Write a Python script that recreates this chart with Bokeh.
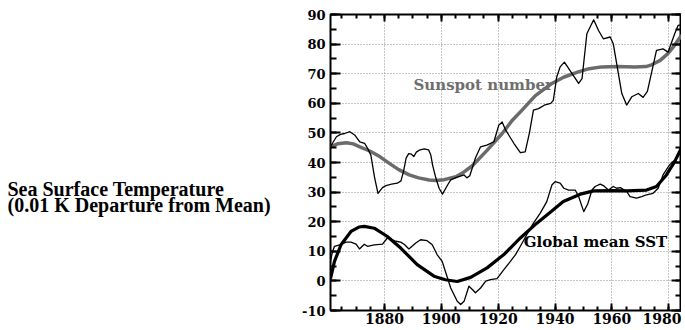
from bokeh.plotting import figure
from bokeh.layouts import row
from bokeh.models import LinearAxis, SingleIntervalTicker, Label, Range1d, CustomJSTickFormatter
from bokeh.core.properties import value
from bokeh.embed import file_html
from bokeh.resources import INLINE

# ---- data ----
sun_years = [1861.0, 1862.0, 1863.1, 1864.5, 1866.0, 1867.8, 1869.5, 1871.3, 1873.0, 1874.2,
             1875.2, 1876.5, 1877.7, 1879.3, 1880.5, 1882.5, 1884.5, 1885.8, 1886.7, 1887.6,
             1888.5, 1889.5, 1890.3, 1891.2, 1892.5, 1894.0, 1895.5, 1896.3, 1896.9, 1898.0,
             1899.2, 1900.4, 1902.2, 1903.3, 1905.1, 1907.0, 1908.0, 1909.0, 1910.0, 1911.0,
             1912.0, 1913.8, 1916.0, 1918.5, 1920.2, 1921.4, 1922.6, 1925.5, 1927.8, 1929.5,
             1931.0, 1932.4, 1934.2, 1936.5, 1938.5, 1939.4, 1940.6, 1941.8, 1943.3, 1946.0,
             1948.3, 1949.5, 1951.2, 1953.6, 1955.3, 1957.0, 1959.4, 1960.5, 1963.5, 1965.2,
             1967.0, 1969.3, 1971.0, 1972.5, 1975.7, 1978.0, 1979.8, 1982.1, 1983.3, 1984.5]
sun_values = [45.3, 47.0, 48.7, 49.5, 49.8, 50.4, 49.3, 47.0, 46.5, 44.5,
              42.5, 35.0, 29.6, 31.5, 32.2, 32.7, 33.0, 33.8, 37.0, 41.5,
              43.0, 42.8, 42.0, 43.5, 44.3, 44.6, 44.3, 42.5, 39.2, 35.0,
              31.3, 29.3, 32.4, 34.1, 34.9, 35.5, 35.8, 34.8, 35.5, 38.5,
              41.5, 45.3, 45.9, 47.0, 52.6, 53.7, 51.0, 46.5, 43.3, 43.6,
              50.0, 57.7, 58.2, 59.5, 60.0, 61.0, 68.9, 72.3, 73.9, 70.0,
              66.7, 68.3, 83.5, 88.2, 84.6, 81.8, 82.4, 80.1, 63.3, 59.4,
              62.2, 63.3, 62.0, 64.0, 77.9, 78.4, 77.3, 83.5, 86.3, 86.5]

sun_smooth_years = [1861.0, 1863.5, 1866.6, 1869.0, 1871.3, 1875.0, 1878.3, 1881.7, 1885.0, 1888.7,
                    1892.0, 1895.7, 1898.0, 1901.0, 1905.1, 1908.0, 1910.9, 1916.0, 1921.4, 1925.0,
                    1928.4, 1933.0, 1938.9, 1943.0, 1948.2, 1952.0, 1956.4, 1962.0, 1968.0, 1972.0,
                    1974.0, 1977.0, 1979.7, 1982.0, 1984.5]
sun_smooth_values = [45.3, 46.3, 46.7, 46.3, 45.3, 43.8, 42.0, 39.7, 37.6, 35.8,
                     34.8, 34.1, 33.9, 34.2, 35.2, 36.8, 38.9, 44.0, 49.8, 54.3,
                     57.7, 62.5, 66.7, 68.8, 70.6, 71.7, 72.3, 72.4, 72.3, 72.4,
                     73.0, 74.5, 76.8, 79.5, 83.0]

sst_years = [1861.0, 1861.6, 1862.4, 1864.2, 1866.5, 1868.2, 1870.0, 1871.2, 1872.9, 1874.0,
             1876.4, 1879.3, 1881.0, 1882.0, 1884.0, 1885.7, 1887.0, 1888.6, 1891.0, 1892.7,
             1895.0, 1896.8, 1898.5, 1900.3, 1901.8, 1903.3, 1905.6, 1906.8, 1908.0, 1909.7,
             1910.9, 1912.0, 1913.8, 1915.6, 1917.3, 1919.6, 1922.0, 1924.3, 1926.1, 1927.8,
             1930.0, 1932.4, 1934.8, 1937.1, 1938.9, 1940.0, 1941.8, 1943.1, 1944.8, 1947.1,
             1948.3, 1950.1, 1951.5, 1953.0, 1954.1, 1955.9, 1957.0, 1958.8, 1960.5, 1961.7,
             1963.0, 1965.2, 1966.4, 1968.7, 1970.5, 1972.2, 1974.5, 1976.3, 1978.0, 1980.3,
             1982.7, 1984.5]
sst_values = [6.5, 9.5, 11.7, 12.2, 13.1, 13.1, 12.4, 10.8, 12.4, 11.7,
              12.2, 12.4, 14.5, 14.2, 13.4, 13.1, 12.3, 10.8, 12.8, 13.9,
              13.6, 12.2, 8.9, 6.6, 2.1, -2.4, -6.9, -8.0, -6.9, -1.8,
              -2.9, -4.0, -2.4, -0.1, 0.4, 0.8, 3.8, 6.6, 8.9, 11.7,
              15.5, 19.5, 22.9, 26.8, 32.4, 33.5, 33.0, 31.3, 30.7, 30.7,
              28.5, 23.4, 26.0, 30.7, 31.9, 32.7, 32.2, 30.7, 31.9, 31.3,
              31.5, 30.2, 28.5, 28.0, 28.5, 29.1, 29.6, 31.3, 35.8, 39.2,
              41.4, 44.0]

sst_smooth_years = [1861.0, 1862.4, 1864.7, 1868.2, 1871.0, 1872.9, 1876.4, 1881.0, 1885.7, 1891.5,
                    1897.4, 1901.4, 1905.6, 1910.3, 1916.1, 1922.0, 1927.8, 1933.6, 1939.4, 1942.9,
                    1948.9, 1953.6, 1960.0, 1965.2, 1972.2, 1975.7, 1979.2, 1982.1, 1984.5]
sst_smooth_values = [0.8, 6.6, 12.2, 16.7, 18.2, 18.4, 17.8, 15.0, 11.1, 5.5,
                     1.6, 0.4, -0.2, 1.2, 4.4, 8.9, 14.5, 19.5, 24.0, 26.8,
                     29.3, 30.4, 30.5, 30.4, 30.7, 31.9, 35.8, 40.3, 45.0]

x_start, x_end = 1861, 1984.5
y_start, y_end = -10, 90
caption_lines = ["Sea Surface Temperature", "(0.01 K Departure from Mean)"]
series_labels = [("Sunspot number", 1890.2, 66.2, "#6e6e6e"),
                 ("Global mean SST", 1929.0, 13.3, "#000000")]

# ---- layout constants (pixels) ----
CAP_W = 298          # width of caption panel
AX_W = 32            # space for y tick labels
TOP = 14
FRAME_W = 351
FRAME_H = 296
TOTAL_H = 326

# ---- caption panel ----
cap = figure(width=CAP_W, height=TOTAL_H, x_range=Range1d(0, CAP_W), y_range=Range1d(TOTAL_H, 0),
             output_backend="svg", toolbar_location=None,
             x_axis_location=None, y_axis_location=None,
             min_border=0, min_border_left=0, min_border_right=0, min_border_top=0, min_border_bottom=0)
cap.outline_line_color = None
cap.grid.visible = False
cap.text(x=[7, 7], y=[192, 210], text=caption_lines,
         text_font=value("Liberation Serif"), text_font_style="bold", text_font_size="20px",
         text_color="black", text_baseline="middle", text_align="left")

# ---- main chart ----
p = figure(frame_width=FRAME_W, frame_height=FRAME_H,
           x_range=(x_start, x_end), y_range=(y_start, y_end),
           output_backend="svg", toolbar_location=None,
           min_border_left=AX_W, min_border_right=0, min_border_top=TOP, min_border_bottom=0)
p.background_fill_color = "white"
p.border_fill_color = "white"
p.outline_line_color = "black"
p.outline_line_width = 2

xt = SingleIntervalTicker(interval=20, num_minor_ticks=4)
yt = SingleIntervalTicker(interval=10, num_minor_ticks=2)

def style_axis(ax, ticker, fsize, major_len, minor_len):
    ax.ticker = ticker
    ax.axis_line_color = None
    ax.major_tick_in = major_len
    ax.major_tick_out = 0
    ax.minor_tick_in = minor_len
    ax.minor_tick_out = 0
    ax.major_tick_line_color = "black"
    ax.minor_tick_line_color = "black"
    ax.major_tick_line_width = 2
    ax.minor_tick_line_width = 2
    ax.major_label_text_font = "DejaVu Serif"
    ax.major_label_text_font_style = "bold"
    ax.major_label_text_font_size = fsize
    ax.major_label_text_color = "black"

style_axis(p.xaxis[0], xt, "14px", 7, 4)
p.xaxis[0].major_label_standoff = 2
style_axis(p.yaxis[0], yt, "13px", 10, 6)
p.yaxis[0].major_label_standoff = 5
p.yaxis[0].formatter = CustomJSTickFormatter(code="return String(Math.round(tick))")

blank = CustomJSTickFormatter(code="return ''")
top = LinearAxis(formatter=blank)
style_axis(top, xt, "1px", 7, 4)
top.major_label_standoff = 0
p.add_layout(top, "above")
right = LinearAxis(formatter=blank)
style_axis(right, yt, "1px", 10, 6)
right.major_label_standoff = 0
p.add_layout(right, "right")

p.xgrid.ticker = xt
p.ygrid.ticker = yt
for g in (p.xgrid[0], p.ygrid[0]):
    g.grid_line_color = "#8a8a8a"
    g.grid_line_dash = "1 2"
    g.grid_line_width = 1

# ---- lines ----
p.line(sun_smooth_years, sun_smooth_values, line_color="#6b6b6b", line_width=3.5, line_join="round")
p.line(sun_years, sun_values, line_color="black", line_width=1.3, line_join="round")
p.line(sst_years, sst_values, line_color="black", line_width=1.3, line_join="round")
p.line(sst_smooth_years, sst_smooth_values, line_color="black", line_width=3.2, line_join="round")

for txt, lx, ly, col in series_labels:
    p.add_layout(Label(x=lx, y=ly, text=txt, text_font="DejaVu Serif", text_font_style="bold",
                       text_font_size="15px", text_color=col, text_baseline="middle",
                       text_align="left"))

layout = row(cap, p, spacing=0)
open("out.html", "w").write(file_html(layout, INLINE))
